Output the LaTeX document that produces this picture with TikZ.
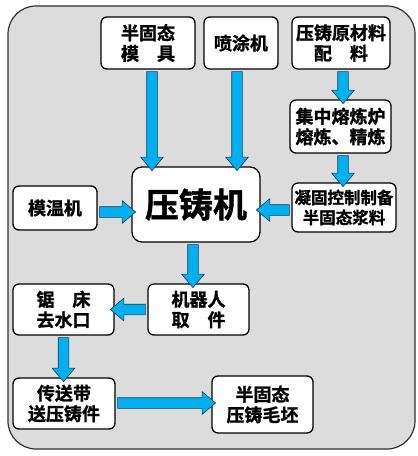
\documentclass[tikz,border=0pt]{standalone}
\usepackage{fontspec}
\setmainfont{Noto Sans CJK SC Bold}[BoldFont={Noto Sans CJK SC Bold}, BoldFeatures={FakeBold=1.2}]
\usetikzlibrary{shapes.arrows,calc}
\definecolor{arrowblue}{HTML}{00B0F0}
\definecolor{arrowedge}{HTML}{1F3B57}
\definecolor{bggray}{HTML}{DCDCDC}
\definecolor{bgedge}{HTML}{303030}
\tikzset{
  box/.style={draw=black, line width=1.3pt, fill=white, rounded corners=6pt,
    inner sep=0pt, outer sep=0pt, align=center, font=\fontsize{18}{20.5}\selectfont\bfseries},
  blockarrow/.style={single arrow, draw=arrowedge, fill=arrowblue, line width=0.6pt,
    inner sep=5pt, outer sep=0pt, minimum width=22pt, single arrow head extend=6pt,
    single arrow tip angle=80, single arrow head indent=0pt}
}
\newcommand\barrow[2]{%
  \path let \p1=#1, \p2=#2, \n1={veclen(\x2-\x1,\y2-\y1)+1pt}, \n2={atan2(\y2-\y1,\x2-\x1)} in
    node[blockarrow, minimum height=\n1, rotate=\n2] at ($(\p1)!0.5!(\p2)$) {};}
\begin{document}
\begin{tikzpicture}[x=1pt,y=-1pt]
\useasboundingbox (0,0) rectangle (418,456);
\path[draw=bgedge, line width=1.2pt, fill=bggray, rounded corners=28pt] (8,6) rectangle (415,449);
\node[box, minimum width=94pt, minimum height=52pt] (mold) at (148,43) {半固态\\模\quad 具};
\node[box, minimum width=74pt, minimum height=52pt] (spray) at (241,43) {喷涂机};
\node[box, minimum width=98pt, minimum height=52pt] (raw) at (341,43) {压铸原材料\\配\quad 料};
\node[box, minimum width=101pt, minimum height=53pt] (melt) at (340.5,126.5) {集中熔炼炉\\熔炼、精炼};
\node[box, minimum width=104pt, minimum height=49pt, font=\fontsize{16.5}{20}\selectfont\bfseries] (slurry) at (344,207.5) {凝固控制制备\\半固态浆料};
\node[box, minimum width=128pt, minimum height=75pt, rounded corners=10pt, font=\fontsize{34}{36}\selectfont\bfseries] (dc) at (196,204.5) {压铸机};
\node[box, minimum width=84pt, minimum height=44pt] (temp) at (55,208) {模温机};
\node[box, minimum width=101pt, minimum height=51pt] (robot) at (198.5,309.5) {机器人\\取\quad 件};
\node[box, minimum width=101pt, minimum height=51pt] (saw) at (63.5,309.5) {锯\quad 床\\去水口};
\node[box, minimum width=102pt, minimum height=51pt] (conv) at (64,403.5) {传送带\\送压铸件};
\node[box, minimum width=101pt, minimum height=57pt] (blank) at (262.5,404.5) {半固态\\压铸毛坯};
\coordinate (a1) at ([xshift=4pt]mold.south);
\barrow{(a1)}{(a1 |- dc.north)}
\coordinate (a2) at ([xshift=-4pt]spray.south);
\barrow{(a2)}{(a2 |- dc.north)}
\coordinate (a3) at ([xshift=2pt]raw.south);
\barrow{(a3)}{(a3 |- melt.north)}
\coordinate (a4) at ([xshift=2.5pt]melt.south);
\barrow{(a4)}{(a4 |- slurry.north)}
\coordinate (a5) at ([yshift=-2.5pt]slurry.west);
\barrow{(a5)}{(a5 -| dc.east)}
\coordinate (a6) at ([yshift=-4pt]temp.east);
\barrow{(a6)}{(a6 -| dc.west)}
\coordinate (a7) at ([xshift=-3pt]dc.south);
\barrow{(a7)}{(a7 |- robot.north)}
\barrow{(robot.west)}{(saw.east)}
\barrow{(saw.south)}{(saw.south |- conv.north)}
\coordinate (a8) at ([yshift=0.5pt]conv.east);
\barrow{(a8)}{(a8 -| blank.west)}
\end{tikzpicture}
\end{document}
